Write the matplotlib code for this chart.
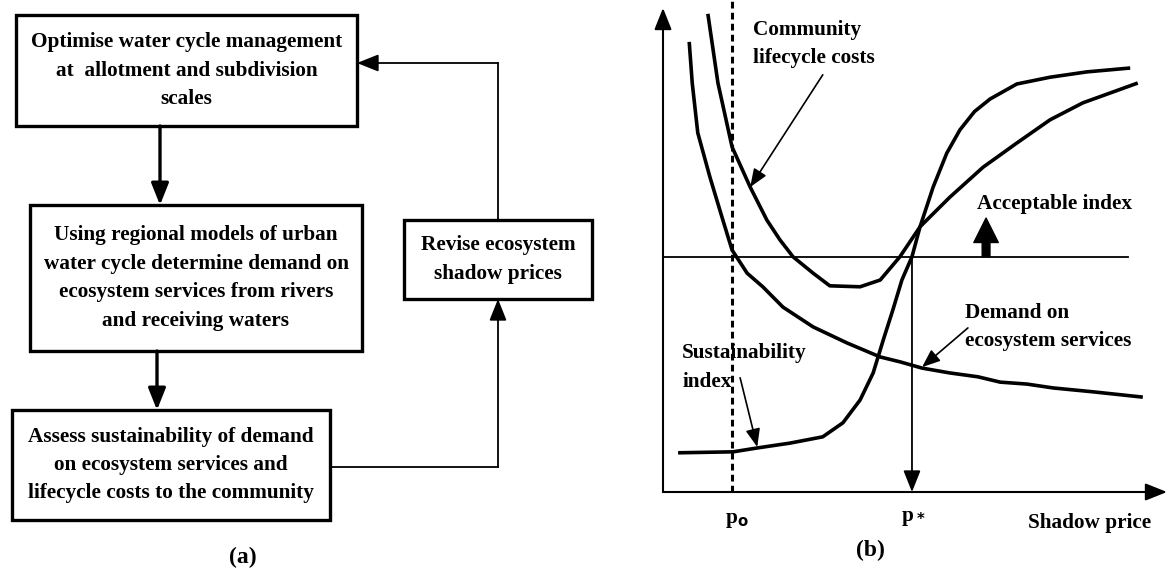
import matplotlib
matplotlib.use('Agg')
import matplotlib.pyplot as plt
from matplotlib.patches import Rectangle

plt.rcParams['font.family'] = ['Liberation Serif', 'DejaVu Serif']
plt.rcParams['font.weight'] = 'bold'

# ---- panel (a): flow chart text ----
box_texts = [
    "Optimise water cycle management\nat  allotment and subdivision\nscales",
    "Using regional models of urban\nwater cycle determine demand on\necosystem services from rivers\nand receiving waters",
    "Assess sustainability of demand\non ecosystem services and\nlifecycle costs to the community",
    "Revise ecosystem\nshadow prices",
]
# box layout in pixels: x0, x1, y0, y1
box_x0 = [16, 30, 12, 404]
box_x1 = [357, 362, 330, 592]
box_y0 = [15, 205, 410, 220]
box_y1 = [126, 351, 520, 299]

# ---- panel (b): curves (x = shadow price, y = value) ----
cost_x = [8.9, 10.9, 13.7, 17.3, 20.6, 23.2, 25.8, 29.8, 33.1, 39.1, 43.1, 47.0,
          51.0, 56.9, 63.5, 70.2, 76.8, 83.3, 94.2]
cost_y = [98.8, 84.5, 71.3, 63.0, 56.2, 52.1, 48.6, 45.2, 42.6, 42.4, 43.8, 48.6,
          54.8, 60.9, 67.1, 72.1, 76.9, 80.4, 84.5]

index_x = [3.0, 13.9, 18.7, 25.2, 31.7, 35.7, 39.1, 41.7, 43.7, 45.6, 47.4, 49.4,
           51.0, 53.6, 56.3, 58.9, 61.8, 64.9, 70.2, 76.8, 84.1, 92.7]
index_y = [8.1, 8.3, 9.1, 10.1, 11.4, 14.3, 19.0, 24.6, 31.4, 37.6, 43.8, 48.6,
           54.8, 63.0, 70.0, 74.8, 78.6, 81.2, 84.3, 85.7, 86.8, 87.6]

demand_x = [5.2, 5.8, 6.9, 9.3, 11.7, 13.7, 16.7, 19.8, 23.8, 29.8, 36.5, 43.1,
            47.0, 51.4, 56.9, 62.5, 66.9, 72.2, 77.4, 85.3, 95.2]
demand_y = [93.0, 84.5, 74.2, 65.1, 56.8, 50.0, 45.2, 42.4, 38.2, 34.1, 30.8, 27.9,
            26.9, 25.6, 24.6, 23.8, 22.7, 22.3, 21.5, 20.7, 19.6]

acceptable = 48.6
p_zero = 13.7
p_star = 49.4

fig = plt.figure(figsize=(11.7, 5.71), dpi=100)

# left panel drawn in pixel units
ax = fig.add_axes([0, 0, 1, 1])
ax.set_xlim(0, 1170)
ax.set_ylim(571, 0)
ax.axis('off')

FS = 15.3
LS = 1.56
for t, x0, x1, y0, y1 in zip(box_texts, box_x0, box_x1, box_y0, box_y1):
    ax.add_patch(Rectangle((x0, y0), x1 - x0, y1 - y0, fill=False, lw=2.4, ec='black'))
    ax.text((x0 + x1) / 2, (y0 + y1) / 2, t, ha='center', va='center',
            fontsize=FS, linespacing=LS)

head = dict(arrowstyle='-|>,head_length=0.6,head_width=0.24', color='black',
            shrinkA=0, shrinkB=0, mutation_scale=22)
ax.annotate('', xy=(160, box_y0[1]), xytext=(160, box_y1[0]), arrowprops=dict(head, lw=2.4))
ax.annotate('', xy=(157, box_y0[2]), xytext=(157, box_y1[1]), arrowprops=dict(head, lw=2.4))
# feedback loop
fx = (box_x0[3] + box_x1[3]) / 2
ax.plot([box_x1[2], fx], [467, 467], color='black', lw=1.3)
ax.annotate('', xy=(fx, box_y1[3]), xytext=(fx, 467), arrowprops=dict(head, lw=1.3))
ax.plot([fx, fx], [box_y0[3], 63], color='black', lw=1.3)
ax.annotate('', xy=(box_x1[0], 63), xytext=(fx, 63), arrowprops=dict(head, lw=1.3))
ax.text(243, 557, '(a)', ha='center', va='center', fontsize=17)

# right panel in data units
bx = fig.add_axes([663 / 1170, 79 / 571, 504 / 1170, 484 / 571])
bx.set_xlim(0, 100)
bx.set_ylim(0, 100)
bx.axis('off')

bx.annotate('', xy=(0, 100), xytext=(0, 0), arrowprops=dict(head, lw=1.5), annotation_clip=False)
bx.annotate('', xy=(100, 0), xytext=(0, 0), arrowprops=dict(head, lw=1.5), annotation_clip=False)

for cx, cy in [(cost_x, cost_y), (index_x, index_y), (demand_x, demand_y)]:
    bx.plot(cx, cy, color='black', lw=2.6, solid_joinstyle='round',
            solid_capstyle='butt', clip_on=False)

bx.plot([0, 92.3], [acceptable, acceptable], color='black', lw=1.3)
bx.plot([p_zero, p_zero], [0, 101.7], color='black', lw=2.2, ls=(0, (2.2, 1.4)), clip_on=False)
bx.annotate('', xy=(p_star, 0), xytext=(p_star, acceptable), arrowprops=dict(head, lw=1.3))
bx.annotate('', xy=(64.1, 56.6), xytext=(64.1, acceptable),
            arrowprops=dict(arrowstyle='simple,head_width=1.1,head_length=1.1,tail_width=0.35',
                            color='black', shrinkA=0, shrinkB=0, mutation_scale=16))

thin = dict(arrowstyle='-|>,head_length=0.55,head_width=0.22', color='black',
            shrinkA=0, shrinkB=0, mutation_scale=20, lw=1.2)
bx.text(17.9, 92.6, 'Community\nlifecycle costs', ha='left', va='center', fontsize=FS, linespacing=LS)
bx.annotate('', xy=(17.3, 63.0), xytext=(31.7, 86.2), arrowprops=thin)
bx.text(3.8, 25.7, 'Sustainability\nindex', ha='left', va='center', fontsize=FS, linespacing=LS)
bx.annotate('', xy=(18.7, 9.3), xytext=(15.3, 23.6), arrowprops=thin)
bx.text(59.9, 34.1, 'Demand on\necosystem services', ha='left', va='center', fontsize=FS, linespacing=LS)
bx.annotate('', xy=(51.4, 25.8), xytext=(60.5, 33.9), arrowprops=thin)
bx.text(62.3, 59.5, 'Acceptable index', ha='left', va='center', fontsize=FS)

bx.text(14.7, -5.8, r'p$_\mathbf{o}$', ha='center', va='center', fontsize=FS, clip_on=False)
bx.text(49.6, -5.4, r'p$_*$', ha='center', va='center', fontsize=FS, clip_on=False)
bx.text(72.4, -6.4, 'Shadow price', ha='left', va='center', fontsize=FS, clip_on=False)
bx.text(41.1, -12.0, '(b)', ha='center', va='center', fontsize=17, clip_on=False)

fig.savefig('out.png', dpi=100)
